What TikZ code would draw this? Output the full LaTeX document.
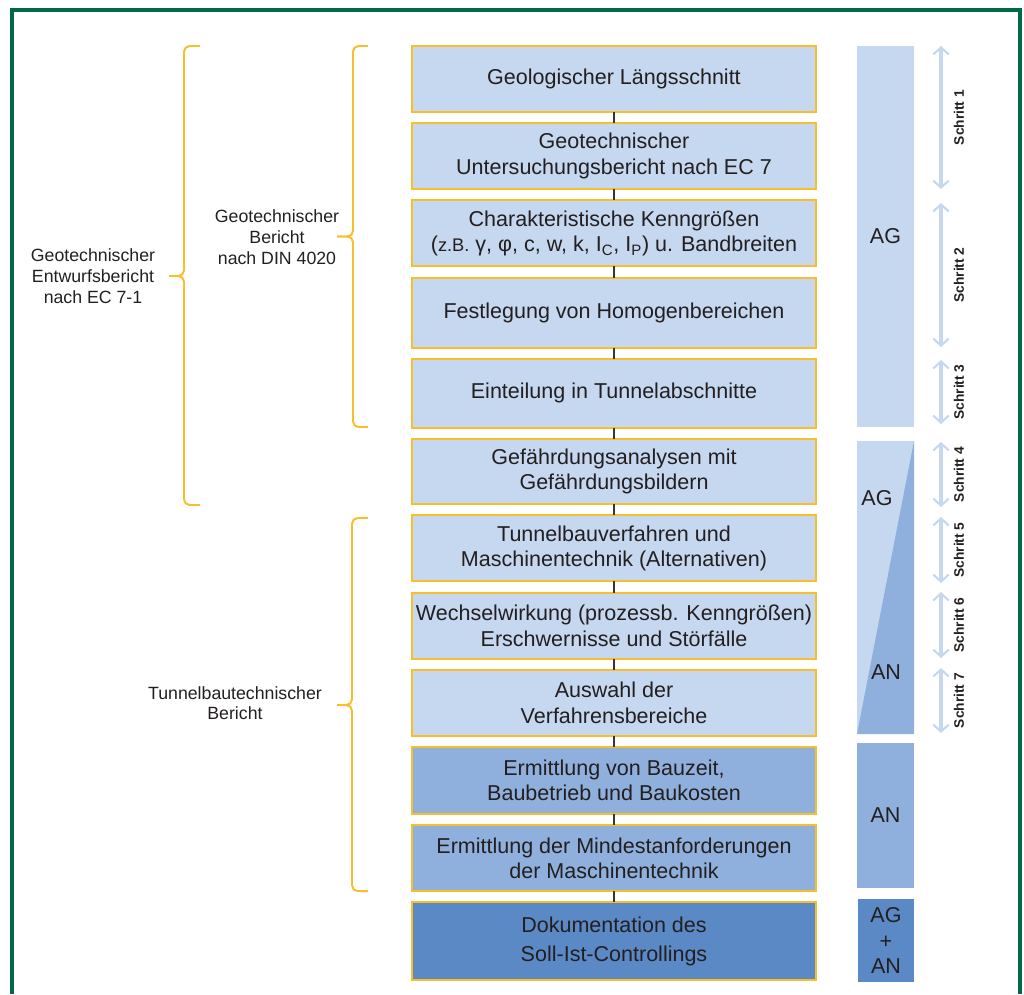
\documentclass[tikz,border=0pt]{standalone}
\usepackage{fontspec}
\setmainfont{Liberation Sans}
\usetikzlibrary{
    arrows.meta, % for the open tips of the step arrows
    positioning % for placing the boxes below each other
}
\definecolor{frame green}{RGB}{0,104,71}
\definecolor{box light}{RGB}{197,216,239}
\definecolor{box mid}{RGB}{143,176,220}
\definecolor{box dark}{RGB}{91,137,198}
\definecolor{box border}{RGB}{248,190,44}
\definecolor{ink}{RGB}{35,31,32}

\begin{document}
\begin{tikzpicture}[
        x=0.025cm,y=-0.025cm,node distance=0.28cm,
        >={Straight Barb[length=5pt,width=11pt,line width=1.5pt]},
        every node/.style  = {text=ink},
        box/.style         = {draw=box border,line width=1.4pt,fill=box light,outer sep=0pt,
                              minimum width=10.1cm,minimum height=1.65cm,inner sep=0pt,
                              align=center,font={\fontsize{15.3}{18.2}\selectfont}},
        bar/.style         = {inner sep=0pt,outer sep=0pt,minimum width=1.425cm,align=center,
                              font={\fontsize{15.3}{18.2}\selectfont}},
        side label/.style  = {align=center,font={\fontsize{12.6}{14.7}\selectfont}},
        step label/.style  = {font={\fontsize{9.8}{11}\selectfont\bfseries}},
        step arrow/.style  = {<->,draw=box light,line width=2.3pt},
        grp brace/.style   = {draw=box border,line width=1.4pt,rounded corners=4},
        link/.style        = {draw=ink!90,line width=1.4pt},
        frame/.style       = {draw=frame green,line width=2.2pt}
    ]
    \useasboundingbox (0,0) rectangle (1024,994);
    \draw[frame] (12,994) -- (12,10) -- (1020,10) -- (1020,994);

    % work steps
    \node [box] (b1) at (614,79) {Geologischer Längsschnitt};
    \node [box] (b2) [below=of b1] {Geotechnischer\\Untersuchungsbericht nach EC 7};
    \node [box] (b3) [below=of b2] {Charakteristische Kenngrößen\\({\fontsize{13}{15}\selectfont z.B.} γ, φ, c, w, k, I\textsubscript{C}, I\textsubscript{P}) u. Bandbreiten};
    \node [box,minimum height=1.75cm]  (b4) [below=of b3] {Festlegung von Homogenbereichen};
    \node [box,minimum height=1.725cm] (b5) [below=of b4] {Einteilung in Tunnelabschnitte};
    \node [box,minimum height=1.625cm] (b6) [below=of b5] {Gefährdungsanalysen mit\\Gefährdungsbildern};
    \node [box] (b7) [below=of b6] {Tunnelbauverfahren und\\Maschinentechnik (Alternativen)};
    \node [box] (b8) [below=of b7] {Wechselwirkung (prozessb. Kenngrößen)\\Erschwernisse und Störfälle};
    \node [box] (b9) [below=of b8] {Auswahl der\\Verfahrensbereiche};
    \node [box,fill=box mid,minimum height=1.675cm] (b10) [below=of b9] {Ermittlung von Bauzeit,\\Baubetrieb und Baukosten};
    \node [box,fill=box mid] (b11) [below=of b10] {Ermittlung der Mindestanforderungen\\der Maschinentechnik};
    \node [box,fill=box dark,minimum height=1.95cm,font={\fontsize{15.3}{21.3}\selectfont}]
        (b12) [below=of b11] {Dokumentation des\\Soll-Ist-Controllings};

    \foreach \i [count=\j from 2] in {1,...,11}
        \draw[link] (b\i.south) -- (b\j.north);

    % braces and report names
    \draw[grp brace] (200,46) -| (184,276) -- (169,276);
    \draw[grp brace] (169,276) -- (184,276) |- (200,505);
    \draw[grp brace] (368,46) -| (353,236.5) -- (337,236.5);
    \draw[grp brace] (337,236.5) -- (353,236.5) |- (368,427);
    \draw[grp brace] (368,518) -| (352,705) -- (337,705);
    \draw[grp brace] (337,705) -- (352,705) |- (368,891);

    \node [side label] (entwurf) at (93,276)  {Geotechnischer\\Entwurfsbericht\\nach EC 7-1};
    \node [side label] (din)     at (277,237) {Geotechnischer\\Bericht\\nach DIN 4020};
    \node [side label] (tunnel)  at (235,703) {Tunnelbautechnischer\\Bericht};

    % who is responsible
    \node [bar,fill=box light,minimum height=9.525cm] (ag)   at (885.5,236.5) {AG};
    \node [bar,fill=box light,minimum height=7.325cm] (agan) at (885.5,587.5) {};
    \fill[box mid] (agan.north east) -- (agan.south east) -- (agan.south west) -- cycle;
    \node [bar,minimum width=0pt] (agan ag) at (877,498) {AG};
    \node [bar,minimum width=0pt] (agan an) at (886,672) {AN};
    \node [bar,fill=box mid,minimum height=3.625cm]   (an)   at (885.5,815.5) {AN};
    \node [bar,fill=box dark,minimum height=2.075cm,minimum width=1.4cm] (both) at (886,940.5) {AG\\+\\AN};

    % steps
    \foreach \n/\top/\bot in {1/46/189,2/203/347,3/360/424,4/442/507,5/517/583,6/592/658,7/668/733} {
        \coordinate (s\n top) at (941,\top);
        \coordinate (s\n bot) at (941,\bot);
        \draw[step arrow] (s\n top) -- (s\n bot)
            node[midway,xshift=0.45cm,rotate=90,step label] {Schritt \n};
    }
\end{tikzpicture}
\end{document}
